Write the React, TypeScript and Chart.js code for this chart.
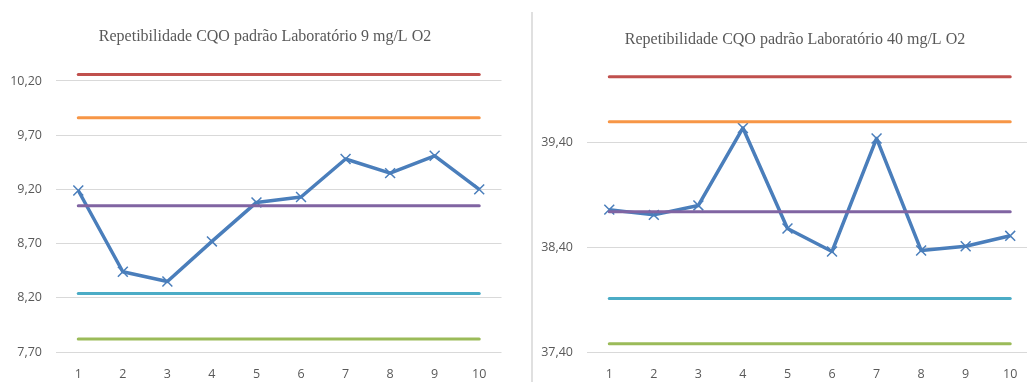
import React, { useEffect, useRef } from "react";
import { Chart, registerables } from "chart.js";

Chart.register(...registerables);

// Run numbers on the x axis
const runs = ["1", "2", "3", "4", "5", "6", "7", "8", "9", "10"];

// 9 mg/L O2 standard: measured COD per run and control limits
const lab9Values = [9.19, 8.44, 8.35, 8.72, 9.08, 9.13, 9.48, 9.35, 9.51, 9.2];
const lab9Limits = [10.26, 9.86, 9.05, 8.24, 7.82]; // UCL, UWL, CL, LWL, LCL
const lab9Ticks = [7.7, 8.2, 8.7, 9.2, 9.7, 10.2];

// 40 mg/L O2 standard: measured COD per run and control limits
const lab40Values = [38.76, 38.71, 38.8, 39.54, 38.58, 38.36, 39.44, 38.37, 38.41, 38.51];
const lab40Limits = [40.03, 39.6, 38.74, 37.91, 37.48]; // UCL, UWL, CL, LWL, LCL
const lab40Ticks = [37.4, 38.4, 39.4];

const limitColors = ["#C0504D", "#F79646", "#8064A2", "#4BACC6", "#9BBB59"];
const seriesColor = "#4A7EBB";
const textColor = "#595959";

// Let the value-axis labels use the free margin left of the axis box
const widenLabelArea = {
  id: "widenLabelArea",
  afterLayout(chart: any) {
    if (chart.scales.y) chart.scales.y.left = 0;
  },
};

type Props = {
  title: string;
  values: number[];
  limits: number[];
  ticks: number[];
  min: number;
  max: number;
  width: number;
  left: number;
  padLeft: number;
  axisWidth: number;
  titleTop: number;
  titleBottom: number;
};

function ControlChart(p: Props) {
  const ref = useRef<HTMLCanvasElement | null>(null);

  useEffect(() => {
    if (!ref.current) return;
    const chart = new Chart(ref.current, {
      type: "line",
      data: {
        labels: runs,
        datasets: [
          {
            data: p.values,
            borderColor: seriesColor,
            backgroundColor: seriesColor,
            borderWidth: 3.5,
            borderJoinStyle: "round",
            pointStyle: "crossRot",
            pointRadius: 7,
            pointBorderColor: seriesColor,
            pointBorderWidth: 1.5,
            tension: 0,
            fill: false,
            order: 1,
          },
          ...p.limits.map((v, i) => ({
            data: runs.map(() => v),
            borderColor: limitColors[i],
            borderWidth: 3,
            borderCapStyle: "round" as const,
            pointRadius: 0,
            fill: false,
            order: 0,
          })),
        ],
      },
      options: {
        responsive: false,
        animation: false,
        events: [],
        layout: { padding: { left: p.padLeft, right: 0, top: 0, bottom: 0 } },
        plugins: {
          legend: { display: false },
          tooltip: { enabled: false },
          title: {
            display: true,
            text: p.title,
            color: textColor,
            font: { family: '"Liberation Serif", "Times New Roman", serif', size: 16, weight: "normal" },
            padding: { top: p.titleTop, bottom: p.titleBottom },
          },
        },
        scales: {
          x: {
            type: "category",
            offset: true,
            grid: { display: false, drawTicks: false },
            border: { display: false },
            ticks: {
              color: textColor,
              font: { family: '"Open Sans", sans-serif', size: 12.5 },
              padding: 14.5,
              maxRotation: 0,
              autoSkip: false,
            },
            afterFit: (s: any) => {
              s.height = 30;
            },
          },
          y: {
            type: "linear",
            min: p.min,
            max: p.max,
            grid: { color: "#D9D9D9", lineWidth: 1, drawTicks: false },
            border: { display: false },
            afterBuildTicks: (s: any) => {
              s.ticks = p.ticks.map((v) => ({ value: v }));
            },
            ticks: {
              color: textColor,
              font: { family: '"Open Sans", sans-serif', size: 12.5 },
              padding: 14,
              callback: (v: any) => Number(v).toFixed(2).replace(".", ","),
            },
            afterFit: (s: any) => {
              s.width = p.axisWidth;
            },
          },
        },
      },
      plugins: [widenLabelArea],
    } as any);
    return () => chart.destroy();
  }, []);

  return (
    <canvas
      ref={ref}
      width={p.width}
      height={382}
      style={{ position: "absolute", left: p.left, top: 0, width: p.width, height: 382 }}
    />
  );
}

export default function App() {
  return (
    <div
      style={{
        position: "fixed",
        left: 0,
        top: 0,
        width: 1027,
        height: 382,
        overflow: "hidden",
        background: "#ffffff",
      }}
    >
      <ControlChart
        title="Repetibilidade CQO padrão Laboratório 9 mg/L O2"
        values={lab9Values}
        limits={lab9Limits}
        ticks={lab9Ticks}
        min={7.7}
        max={10.4}
        width={510}
        left={0}
        padLeft={20}
        axisWidth={36}
        titleTop={27}
        titleBottom={13.1}
      />
      <div
        style={{
          position: "absolute",
          left: 531,
          top: 12,
          width: 0,
          height: 370,
          borderLeft: "2px solid #E0E0E0",
        }}
      />
      <ControlChart
        title="Repetibilidade CQO padrão Laboratório 40 mg/L O2"
        values={lab40Values}
        limits={lab40Limits}
        ticks={lab40Ticks}
        min={37.4}
        max={40.2}
        width={508}
        left={533}
        padLeft={16}
        axisWidth={38}
        titleTop={30}
        titleBottom={9.7}
      />
    </div>
  );
}
